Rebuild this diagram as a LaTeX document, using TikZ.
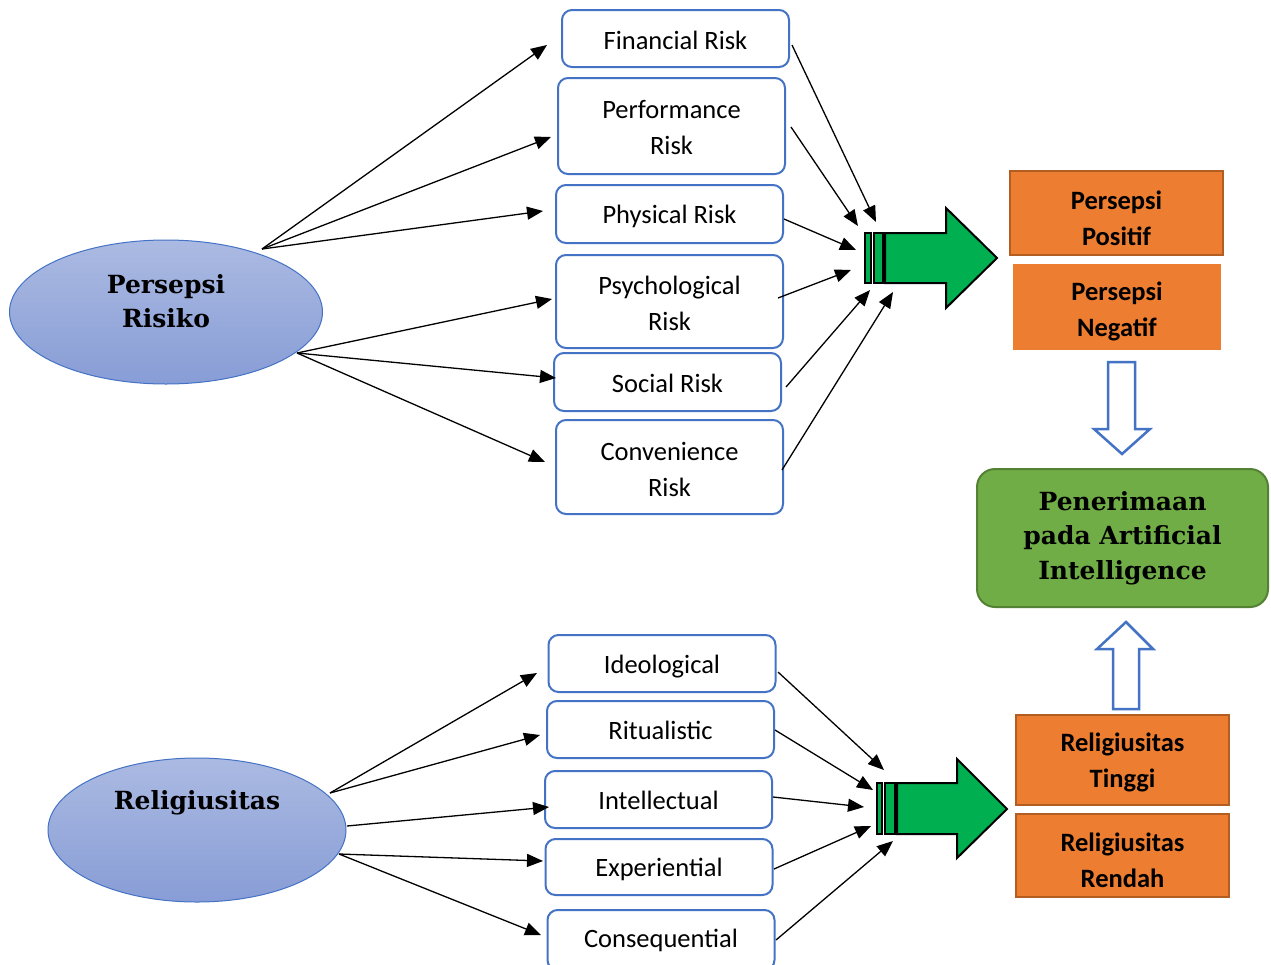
\documentclass[tikz,border=0pt]{standalone}
\usepackage{fontspec}
\setmainfont{Carlito}
\newfontfamily\coop{DejaVu Serif}
\usetikzlibrary{arrows.meta,shapes.geometric}
\definecolor{bblue}{HTML}{4472C4}
\definecolor{orng}{HTML}{ED7D31}
\definecolor{odark}{HTML}{B25E22}
\definecolor{gbox}{HTML}{70AD47}
\definecolor{gdark}{HTML}{548235}
\definecolor{garr}{HTML}{00B050}
\definecolor{elltop}{RGB}{171,186,226}
\definecolor{ellbot}{RGB}{136,157,214}
\newcommand\lowr[2]{\raisebox{-#1pt}[\height][\depth]{#2}}
\tikzset{
  rbox/.style={draw=bblue, line width=2pt, rounded corners=10pt, fill=white,
    minimum width=227pt, align=center, inner sep=0pt,
    font=\fontsize{26.5}{36}\selectfont},
  obox/.style={fill=orng, draw=odark, line width=2pt, align=center, inner sep=0pt,
    font=\fontsize{26.5}{36}\selectfont\bfseries},
  ell/.style={ellipse, draw=bblue, line width=1pt, top color=elltop, bottom color=ellbot,
    inner sep=0pt},
  etext/.style={align=center, inner sep=0pt, font=\coop\bfseries\fontsize{25}{34.5}\selectfont},
  conn/.style={draw=black, line width=1.3pt, -{Triangle[length=16pt,width=13pt]}},
  garrow/.style={fill=garr, draw=black, line width=2pt, line join=miter},
  harrow/.style={fill=white, draw=bblue, line width=2.5pt, line join=miter}
}
\begin{document}
\begin{tikzpicture}[x=1pt,y=-1pt]
\useasboundingbox (0,0) rectangle (1271,964);
\fill[white] (0,0) rectangle (1271,964);

% ellipses
\node[ell, minimum width=313pt, minimum height=144pt] (pr) at (166,312) {};
\node[etext] (prt) at (166,301) {Persepsi\\Risiko};
\node[ell, minimum width=298pt, minimum height=144pt] (rel) at (197,830) {};
\node[etext] (relt) at (197,803) {Religiusitas};

% risk boxes
\node[rbox, minimum height=57pt] (fin) at (675.5,38.5) {\lowr{2}{Financial Risk}};
\node[rbox, minimum height=96pt] (perf) at (671.5,126) {\lowr{2}{Performance}\\\lowr{2}{Risk}};
\node[rbox, minimum height=58pt] (phys) at (669.5,214) {\lowr{2}{Physical Risk}};
\node[rbox, minimum height=93pt] (psy) at (669.5,301.5) {\lowr{2}{Psychological}\\\lowr{2}{Risk}};
\node[rbox, minimum height=58pt] (soc) at (667.5,382) {\lowr{1}{Social Risk}};
\node[rbox, minimum height=94pt] (conv) at (669.5,467) {\lowr{2}{Convenience}\\\lowr{2}{Risk}};

% religiosity boxes
\node[rbox, minimum height=57pt] (ideo) at (662,663.5) {\lowr{3}{Ideological}};
\node[rbox, minimum height=57pt] (rit) at (660.5,729.5) {\lowr{1}{Ritualistic}};
\node[rbox, minimum height=57pt] (intel) at (658.5,799.5) {\lowr{1}{Intellectual}};
\node[rbox, minimum height=56pt] (expe) at (659,867) {\lowr{2}{Experiential}};
\node[rbox, minimum height=60pt] (cons) at (661,940) {Consequential};

% orange boxes
\node[obox, minimum width=213pt, minimum height=84pt] (pos) at (1116.5,213) {\lowr{5}{Persepsi}\\\lowr{5}{Positif}};
\node[obox, draw=none, minimum width=208pt, minimum height=86pt] (neg) at (1117,307) {\lowr{4}{Persepsi}\\\lowr{4}{Negatif}};
\node[obox, minimum width=213pt, minimum height=90pt] (tinggi) at (1122.5,760) {\lowr{2}{Religiusitas}\\\lowr{2}{Tinggi}};
\node[obox, minimum width=213pt, minimum height=83pt] (rendah) at (1122.5,855.5) {\lowr{5}{Religiusitas}\\\lowr{5}{Rendah}};

% green box
\node[fill=gbox, draw=gdark, line width=2pt, rounded corners=18pt, minimum width=291pt,
  minimum height=138pt, align=center, inner sep=0pt,
  font=\coop\bfseries\fontsize{25}{34.5}\selectfont] (ai) at (1122.5,538)
  {Penerimaan\\pada Artificial\\Intelligence};

% hollow arrows
\draw[harrow] (1108,362) -- (1135,362) -- (1135,429) -- (1150,429) -- (1122,454)
  -- (1094,429) -- (1108,429) -- cycle;
\draw[harrow] (1126,622) -- (1153,649) -- (1139,649) -- (1139,709) -- (1113,709)
  -- (1113,649) -- (1097,649) -- cycle;

% green arrows
\draw[garrow] (885,233) -- (946,233) -- (946,208) -- (997,258) -- (946,308)
  -- (946,283) -- (885,283) -- cycle;
\draw[garrow] (865,233) rectangle (871,283);
\draw[garrow] (874,233) rectangle (883,283);
\draw[garrow] (897,783) -- (957,783) -- (957,759) -- (1007,809) -- (957,858)
  -- (957,834) -- (897,834) -- cycle;
\draw[garrow] (877,783) rectangle (882,834);
\draw[garrow] (885,783) rectangle (895,834);

% connector coordinates
\coordinate (prA) at (262,249);
\coordinate (prB) at (297,353);
\coordinate (finL) at (547,45);
\coordinate (perfL) at (551,137);
\coordinate (physL) at (543,211);
\coordinate (psyL) at (552,299);
\coordinate (socL) at (556,378);
\coordinate (convL) at (545,462);
\coordinate (finR) at (792,45);
\coordinate (perfR) at (791,127);
\coordinate (physR) at (784,219);
\coordinate (psyR) at (778,298);
\coordinate (socR) at (786,387);
\coordinate (convR) at (782,470);
\coordinate (t1) at (876,222);
\coordinate (t2) at (858,226);
\coordinate (t3) at (856,250);
\coordinate (t4) at (851,270);
\coordinate (t5) at (870,290);
\coordinate (t6) at (893,292);

\coordinate (relA) at (330,793);
\coordinate (relB) at (347,826);
\coordinate (relC) at (339,854);
\coordinate (ideoL) at (537,673);
\coordinate (ritL) at (540,735);
\coordinate (intelL) at (549,807);
\coordinate (expeL) at (543,861);
\coordinate (consL) at (541,935);
\coordinate (ideoR) at (778,672);
\coordinate (ritR) at (775,730);
\coordinate (intelR) at (773,797);
\coordinate (expeR) at (774,869);
\coordinate (consR) at (776,940);
\coordinate (b1) at (884,770);
\coordinate (b2) at (873,790);
\coordinate (b3) at (864,807);
\coordinate (b4) at (871,826);
\coordinate (b5) at (893,841);

% connectors top
\draw[conn] (prA) -- (finL);
\draw[conn] (prA) -- (perfL);
\draw[conn] (prA) -- (physL);
\draw[conn] (prB) -- (psyL);
\draw[conn] (prB) -- (socL);
\draw[conn] (prB) -- (convL);
\draw[conn] (finR) -- (t1);
\draw[conn] (perfR) -- (t2);
\draw[conn] (physR) -- (t3);
\draw[conn] (psyR) -- (t4);
\draw[conn] (socR) -- (t5);
\draw[conn] (convR) -- (t6);

% connectors bottom
\draw[conn] (relA) -- (ideoL);
\draw[conn] (relA) -- (ritL);
\draw[conn] (relB) -- (intelL);
\draw[conn] (relC) -- (expeL);
\draw[conn] (relC) -- (consL);
\draw[conn] (ideoR) -- (b1);
\draw[conn] (ritR) -- (b2);
\draw[conn] (intelR) -- (b3);
\draw[conn] (expeR) -- (b4);
\draw[conn] (consR) -- (b5);
\end{tikzpicture}
\end{document}
